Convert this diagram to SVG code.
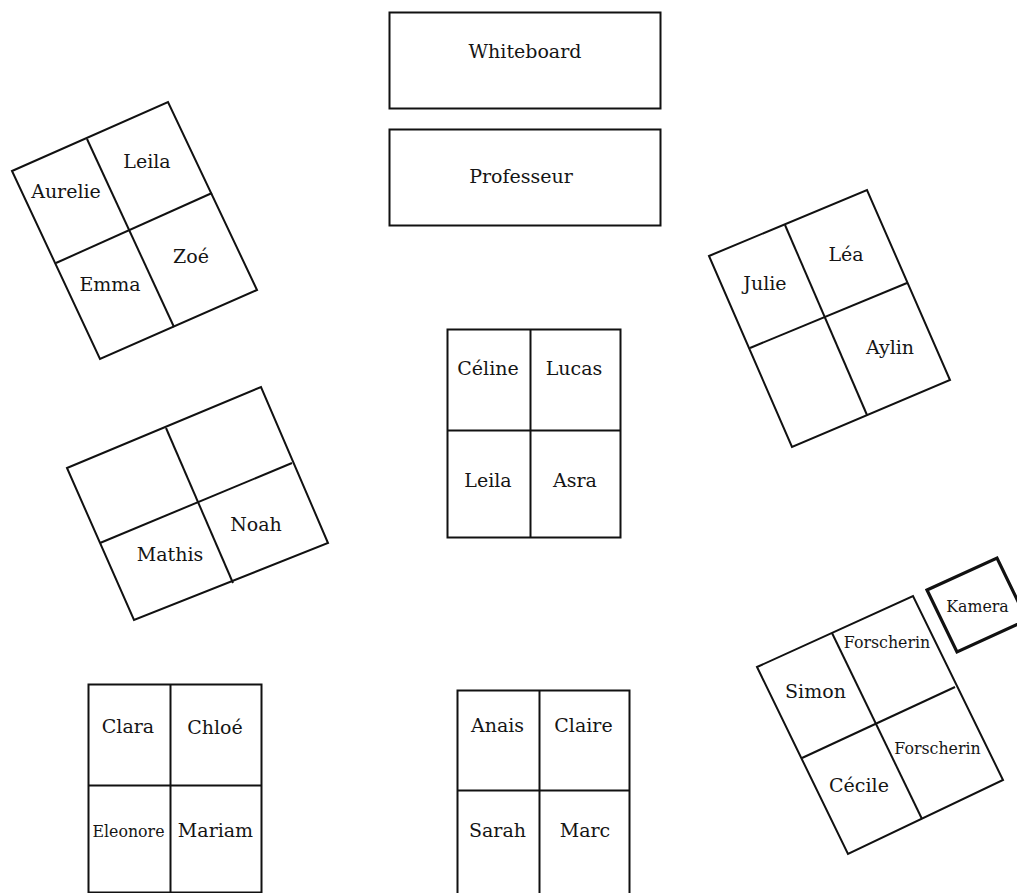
<svg xmlns="http://www.w3.org/2000/svg" width="1017" height="893" viewBox="0 0 1017 893">
  <style>
    .desk { fill: #ffffff; stroke: #111111; stroke-width: 2; stroke-linejoin: miter; }
    .div { fill: none; stroke: #111111; stroke-width: 2; }
    .cam { fill: #ffffff; stroke: #111111; stroke-width: 3.2; }
    text { font-family: "DejaVu Serif", "Liberation Serif", serif; font-size: 19px; fill: #151515; text-anchor: middle; }
    .sm { font-size: 15.8px; }
  </style>
  <rect width="1017" height="893" fill="#ffffff"/>

  <g id="whiteboard">
    <rect class="desk" x="389.5" y="12.5" width="271" height="96"/>
    <text x="525" y="58">Whiteboard</text>
  </g>

  <g id="professeur">
    <rect class="desk" x="389.5" y="129.5" width="271" height="96"/>
    <text x="521" y="183">Professeur</text>
  </g>

  <g id="table-aurelie">
    <polygon class="desk" points="12,171 168,102 257,290 100,359"/>
    <line class="div" x1="87" y1="139" x2="174" y2="327"/>
    <line class="div" x1="56" y1="263" x2="212" y2="193"/>
    <text x="66" y="198">Aurelie</text>
    <text x="147" y="168">Leila</text>
    <text x="110" y="291">Emma</text>
    <text x="191" y="263">Zoé</text>
  </g>

  <g id="table-mathis">
    <polygon class="desk" points="67,468 261,387 328,543 134,620"/>
    <line class="div" x1="166" y1="428" x2="233" y2="583"/>
    <line class="div" x1="100" y1="543" x2="292" y2="463"/>
    <text x="170" y="561">Mathis</text>
    <text x="256" y="531">Noah</text>
  </g>

  <g id="table-julie">
    <polygon class="desk" points="709,256 867,190 950,380 792,447"/>
    <line class="div" x1="785" y1="225" x2="867" y2="415"/>
    <line class="div" x1="750" y1="348" x2="907" y2="283"/>
    <text x="765" y="290">Julie</text>
    <text x="846" y="261">Léa</text>
    <text x="890" y="354">Aylin</text>
  </g>

  <g id="table-celine">
    <rect class="desk" x="447.5" y="329.5" width="173" height="208"/>
    <line class="div" x1="530.5" y1="329.5" x2="530.5" y2="537.5"/>
    <line class="div" x1="447.5" y1="430.5" x2="620.5" y2="430.5"/>
    <text x="488" y="375">Céline</text>
    <text x="574" y="375">Lucas</text>
    <text x="488" y="487">Leila</text>
    <text x="575" y="487">Asra</text>
  </g>

  <g id="table-clara">
    <rect class="desk" x="88.5" y="684.5" width="173" height="208"/>
    <line class="div" x1="170.5" y1="684.5" x2="170.5" y2="892.5"/>
    <line class="div" x1="88.5" y1="785.5" x2="261.5" y2="785.5"/>
    <text x="128" y="733">Clara</text>
    <text x="215" y="734">Chloé</text>
    <text class="sm" x="128.5" y="837">Eleonore</text>
    <text x="215.5" y="837">Mariam</text>
  </g>

  <g id="table-anais">
    <rect class="desk" x="457.5" y="690.5" width="172" height="206"/>
    <line class="div" x1="539.5" y1="690.5" x2="539.5" y2="896"/>
    <line class="div" x1="457.5" y1="790.5" x2="629.5" y2="790.5"/>
    <text x="497.5" y="732">Anais</text>
    <text x="583.5" y="732">Claire</text>
    <text x="497.5" y="837">Sarah</text>
    <text x="585" y="837">Marc</text>
  </g>

  <g id="table-simon">
    <polygon class="desk" points="757,667 913,596 1003,780 848,854"/>
    <line class="div" x1="832" y1="633" x2="922" y2="819"/>
    <line class="div" x1="802" y1="758" x2="955" y2="687"/>
    <text class="sm" x="887" y="648">Forscherin</text>
    <text x="815.5" y="698">Simon</text>
    <text class="sm" x="937.5" y="754">Forscherin</text>
    <text x="859" y="792">Cécile</text>
  </g>

  <g id="kamera">
    <polygon class="cam" points="927,590 997,558 1027,620 957,652"/>
    <text class="sm" x="977.5" y="612">Kamera</text>
  </g>
</svg>
